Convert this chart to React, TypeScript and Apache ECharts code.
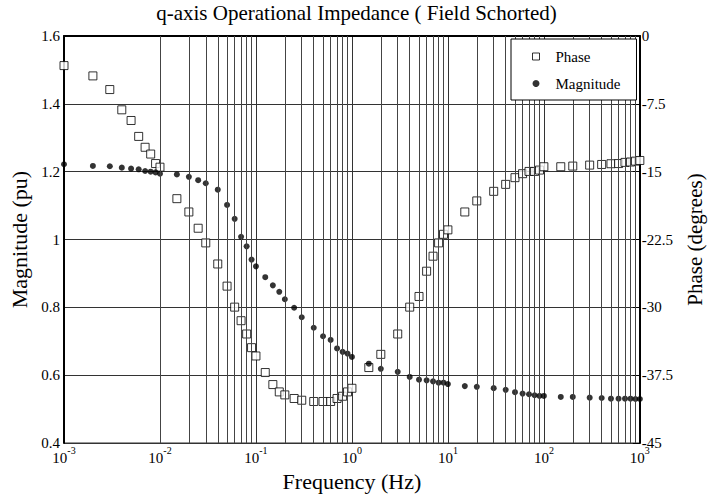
import React, { useEffect, useRef } from 'react';
import * as echarts from 'echarts';

const frequencies = [
  0.001, 0.002, 0.003, 0.004, 0.005, 0.006, 0.007, 0.008, 0.009, 0.01,
  0.015, 0.02, 0.025, 0.03, 0.04, 0.05, 0.06, 0.07, 0.08, 0.09,
  0.1, 0.125, 0.15, 0.175, 0.2, 0.25, 0.3, 0.4, 0.5, 0.6, 0.7, 0.8, 0.9,
  1, 1.5, 2, 3, 4, 5, 6, 7, 8, 9,
  10, 15, 20, 30, 40, 50, 60, 70, 80, 90,
  100, 150, 200, 300, 400, 500, 600, 700, 800, 900, 1000,
];

const magnitude = [
  1.222, 1.217, 1.216, 1.212, 1.209, 1.207, 1.202, 1.2, 1.198, 1.194,
  1.192, 1.185, 1.175, 1.166, 1.147, 1.102, 1.061, 1.008, 0.98, 0.941,
  0.921, 0.889, 0.865, 0.846, 0.824, 0.799, 0.771, 0.74, 0.715, 0.704, 0.679, 0.669, 0.664,
  0.654, 0.634, 0.619, 0.61, 0.595, 0.587, 0.585, 0.582, 0.578, 0.578,
  0.574, 0.568, 0.566, 0.562, 0.557, 0.55, 0.546, 0.544, 0.541, 0.539,
  0.539, 0.536, 0.536, 0.534, 0.533, 0.531, 0.531, 0.531, 0.531, 0.53, 0.53,
];

const phase = [
  -3.27, -4.41, -5.92, -8.16, -9.34, -11.1, -12.3, -13.05, -14.1, -14.5,
  -17.98, -19.45, -21.25, -22.87, -25.2, -27.65, -29.97, -31.47, -32.94, -34.45,
  -35.37, -37.2, -38.53, -39.34, -39.67, -40.07, -40.26, -40.4, -40.4, -40.4, -40.07, -39.82, -39.34,
  -38.94, -36.65, -35.19, -32.94, -29.97, -28.79, -26.0, -24.34, -22.87, -21.92,
  -21.43, -19.45, -18.23, -17.17, -16.4, -15.66, -15.22, -14.97, -14.97, -14.82,
  -14.45, -14.45, -14.38, -14.27, -14.2, -14.12, -14.1, -13.97, -13.93, -13.83, -13.76,
];

const decadeExponents = [-3, -2, -1, 0, 1, 2];
const minorMultipliers = [2, 3, 4, 5, 6, 7, 8, 9];
const minorGridFreqs: number[] = [];
decadeExponents.forEach((e) => {
  minorMultipliers.forEach((m) => {
    minorGridFreqs.push(Number((m * Math.pow(10, e)).toPrecision(3)));
  });
});

const FONT = "'Liberation Serif', 'Times New Roman', serif";

export default function App() {
  const ref = useRef<HTMLDivElement>(null);
  useEffect(() => {
    if (!ref.current) return;
    const chart = echarts.init(ref.current, undefined, { renderer: 'svg' });
    const magData = frequencies.map((f, i) => [f, magnitude[i]]);
    const phaseData = frequencies.map((f, i) => [f, phase[i]]);
    chart.setOption({
      animation: false,
      backgroundColor: '#fff',
      textStyle: { fontFamily: FONT, color: '#000' },
      title: {
        text: 'q-axis Operational Impedance ( Field Schorted)',
        left: 'center',
        top: 0,
        padding: [2, 5, 2, 5],
        textStyle: { fontFamily: FONT, fontSize: 21, fontWeight: 'normal', color: '#000' },
      },
      legend: {
        orient: 'vertical',
        left: 511,
        top: 39,
        padding: [10, 16, 9, 21],
        itemGap: 12,
        itemWidth: 7,
        itemHeight: 7,
        backgroundColor: '#fff',
        borderColor: '#000',
        borderWidth: 1,
        borderRadius: 0,
        textStyle: { fontFamily: FONT, fontSize: 15, color: '#000', padding: [0, 0, 0, 11] },
        data: [
          { name: 'Phase', icon: 'rect', itemStyle: { color: '#fff', borderColor: '#000', borderWidth: 1 } },
          { name: 'Magnitude', icon: 'circle', itemStyle: { color: '#000' } },
        ],
        z: 10,
      },
      grid: {
        left: 64,
        right: 64,
        top: 36,
        bottom: 53,
        show: true,
        borderColor: '#000',
        borderWidth: 1,
        backgroundColor: 'transparent',
      },
      xAxis: {
        type: 'log',
        logBase: 10,
        min: 0.001,
        max: 1000,
        splitNumber: 6,
        name: 'Frequency (Hz)',
        nameLocation: 'middle',
        nameGap: 25,
        nameTextStyle: { fontFamily: FONT, fontSize: 22, color: '#000' },
        axisLine: { show: true, lineStyle: { color: '#000', width: 2 } },
        axisTick: { show: false },
        splitLine: { show: true, lineStyle: { color: '#333', width: 1 } },
        axisLabel: {
          margin: 2,
          formatter: (v: number) => `{b|10}{s|${Math.round(Math.log10(v))}}`,
          rich: {
            b: { fontFamily: FONT, fontSize: 15, color: '#000', lineHeight: 20, verticalAlign: 'bottom' },
            s: { fontFamily: FONT, fontSize: 10, color: '#000', lineHeight: 20, verticalAlign: 'top' },
          },
        },
      },
      yAxis: [
        {
          type: 'value',
          min: 0.4,
          max: 1.6,
          interval: 0.2,
          name: 'Magnitude (pu)',
          nameLocation: 'middle',
          nameGap: 31,
          nameTextStyle: { fontFamily: FONT, fontSize: 22, color: '#000' },
          axisLine: { show: true, lineStyle: { color: '#000', width: 2 } },
          axisTick: { show: false },
          splitLine: { show: true, lineStyle: { color: '#333', width: 1 } },
          axisLabel: { fontFamily: FONT, fontSize: 15, color: '#000', margin: 4 },
        },
        {
          type: 'value',
          min: -45,
          max: 0,
          interval: 7.5,
          position: 'right',
          name: 'Phase (degrees)',
          nameLocation: 'middle',
          nameGap: 41,
          nameRotate: 90,
          nameTextStyle: { fontFamily: FONT, fontSize: 21, color: '#000' },
          axisLine: { show: true, lineStyle: { color: '#000', width: 2 } },
          axisTick: { show: true, inside: true, length: 7, lineStyle: { color: '#000' } },
          splitLine: { show: false },
          axisLabel: { fontFamily: FONT, fontSize: 15, color: '#000', margin: 2 },
        },
      ],
      series: [
        {
          name: 'gridlines',
          type: 'line',
          data: [],
          silent: true,
          z: 1,
          markLine: {
            silent: true,
            symbol: ['none', 'none'],
            label: { show: false },
            lineStyle: { color: '#444', width: 1, type: 'solid' },
            emphasis: { disabled: true },
            data: minorGridFreqs.map((f) => ({ xAxis: f })),
          },
        },
        {
          name: 'Phase',
          type: 'scatter',
          yAxisIndex: 1,
          symbol: 'rect',
          symbolSize: 8,
          z: 3,
          itemStyle: { color: '#fff', borderColor: '#000', borderWidth: 1 },
          data: phaseData,
        },
        {
          name: 'Magnitude',
          type: 'scatter',
          yAxisIndex: 0,
          symbol: 'circle',
          symbolSize: 6,
          z: 4,
          itemStyle: { color: '#000' },
          data: magData,
        },
      ],
    });
    return () => chart.dispose();
  }, []);
  return <div ref={ref} style={{ position: 'absolute', left: 0, top: 0, width: 713, height: 497 }} />;
}
